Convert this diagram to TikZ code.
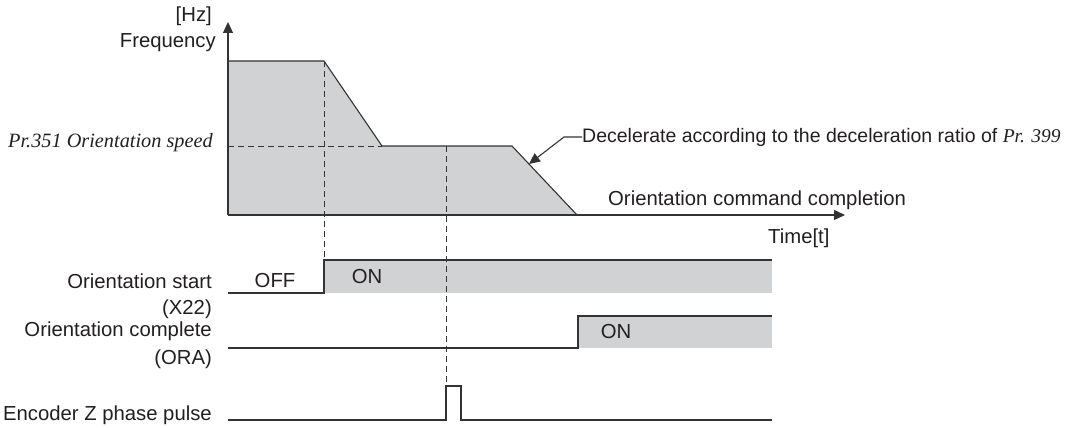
\documentclass[tikz,border=0pt]{standalone}
\usepackage{fontspec}
\setmainfont{Liberation Sans}
\newfontfamily\prfont{Liberation Serif}
\usetikzlibrary{arrows.meta}

\definecolor{greyfill}{HTML}{D1D2D4}
\definecolor{ink}{HTML}{333333}
\definecolor{txt}{HTML}{231F20}

\tikzset{
  wave/.style={draw=ink, line width=1.1pt},
  guide/.style={draw=ink, line width=1pt, dash pattern=on 6pt off 4pt},
  lbl/.style={font=\fontsize{20.3}{24}\selectfont, text=txt, inner sep=0pt},
  tip/.style={-{Triangle[length=11pt, width=10pt]}},
}

\begin{document}
\begin{tikzpicture}[x=1pt, y=-1pt]

\useasboundingbox (0,0) rectangle (1077,428);

% Puntos del perfil de frecuencia
\coordinate (orig) at (228,215);
\coordinate (ytop) at (228,22);
\coordinate (xend) at (845,215);
\coordinate (hi1) at (228,61);
\coordinate (hi2) at (324,61);
\coordinate (lo1) at (382,146);
\coordinate (lo2) at (512,146);
\coordinate (stop) at (577,215);

% Zona sombreada
\fill[greyfill] (orig) -- (hi1) -- (hi2) -- (lo1) -- (lo2) -- (stop) -- cycle;
\draw[wave] (hi1) -- (hi2) -- (lo1) -- (lo2) -- (stop);

% Ejes
\draw[wave, tip] (orig) -- (ytop);
\draw[wave, tip] (orig) -- (xend);

% Señales
\fill[greyfill] (324,260) rectangle (772,293);
\draw[wave] (228,293) -- (324,293) -- (324,260) -- (772,260);
\fill[greyfill] (578,316) rectangle (772,348);
\draw[wave] (228,348) -- (578,348) -- (578,316) -- (772,316);
\coordinate (pulse) at (446,386);
\draw[wave] (228,420) -- (446,420) -- (pulse) -- (461,386) -- (461,420) -- (772,420);

% Líneas auxiliares
\coordinate (start) at (324,260);
\coordinate (spd) at (228,146);
\coordinate (zmark) at (446,146);
\draw[guide] (hi2) -- (start);
\draw[guide] (spd) -- (lo1);
\draw[guide] (zmark) -- (pulse);

% Etiquetas
\node (hz) at (212,16)[lbl, anchor=east] {[Hz]};
\node (freq) at (216,43)[lbl, anchor=east] {Frequency};
\node (speed) at (213,143)[lbl, anchor=east] {\prfont\itshape Pr.351 Orientation speed};
\node (decel) at (582,137)[lbl, anchor=west, font=\fontsize{19.5}{23}\selectfont] {Decelerate according to the deceleration ratio of {\prfont\itshape Pr. 399}};
\coordinate (hit) at (529,164);
\draw[wave, tip] (decel.west) -- ++(-18,0) -- (hit);
\node (done) at (608,200)[lbl, anchor=west] {Orientation command completion};
\node (time) at (768,238)[lbl, anchor=west] {Time[t]};

\node (x22) at (212,281)[lbl, anchor=east] {Orientation start};
\node (x22b) at (212,309)[lbl, anchor=east] {(X22)};
\node (ora) at (212,331)[lbl, anchor=east] {Orientation complete};
\node (orab) at (212,359)[lbl, anchor=east] {(ORA)};
\node (enc) at (212,415)[lbl, anchor=east] {Encoder Z phase pulse};

\node (off) at (275,281)[lbl] {OFF};
\node (on1) at (367,277)[lbl] {ON};
\node (on2) at (616,332)[lbl] {ON};

\end{tikzpicture}
\end{document}
